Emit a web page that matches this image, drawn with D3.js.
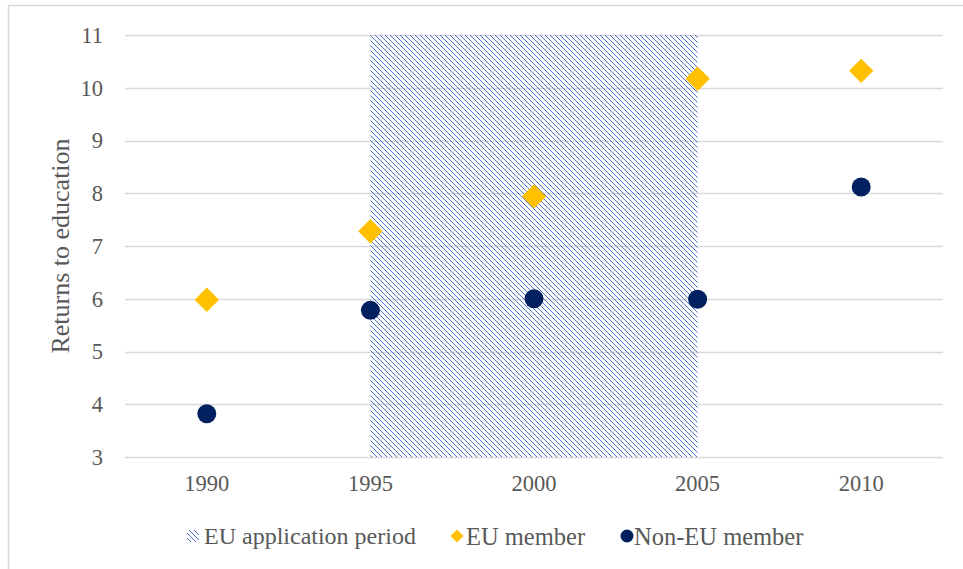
<!DOCTYPE html>
<html>
<head>
<meta charset="utf-8">
<script src="https://cdn.jsdelivr.net/npm/d3@7"></script>
<style>
  body { margin: 0; background: #fff; }
  svg text { font-family: "Liberation Serif", "Times New Roman", serif; }
</style>
</head>
<body>
<script>
const years = ["1990", "1995", "2000", "2005", "2010"];
const euMember = [5.98, 7.28, 7.94, 10.17, 10.32];
const nonEuMember = [3.82, 5.78, 6.0, 5.99, 8.12];
const applicationPeriod = [null, 11, 11, 11, null];
const yTicks = [3, 4, 5, 6, 7, 8, 9, 10, 11];

const width = 963, height = 569;
const margin = {top: 35, right: 20, bottom: 112, left: 125};
const textColor = "#595959";

const svg = d3.select("body").append("svg")
  .attr("width", width)
  .attr("height", height);

// chart border
svg.append("rect")
  .attr("x", 8.5).attr("y", 5.5)
  .attr("width", width).attr("height", height)
  .attr("fill", "none")
  .attr("stroke", "#d9d9d9")
  .attr("stroke-width", 1.5);

const defs = svg.append("defs");
const pat = defs.append("pattern")
  .attr("id", "hatch")
  .attr("patternUnits", "userSpaceOnUse")
  .attr("width", 5).attr("height", 5);
pat.append("path")
  .attr("d", "M-1,-1 L6,6 M-1,4 L1,6 M4,-1 L6,1")
  .attr("stroke", "#3b69cc")
  .attr("stroke-width", 0.95);

const x = d3.scaleBand()
  .domain(years)
  .range([margin.left, width - margin.right]);

const y = d3.scaleLinear()
  .domain([3, 11])
  .range([height - margin.bottom, margin.top]);

const cx = (d, i) => x(years[i]) + x.bandwidth() / 2;

// gridlines
svg.append("g")
  .selectAll("line")
  .data(yTicks)
  .join("line")
  .attr("x1", margin.left)
  .attr("x2", width - margin.right)
  .attr("y1", d => Math.round(y(d)) + 0.5)
  .attr("y2", d => Math.round(y(d)) + 0.5)
  .attr("stroke", "#d9d9d9")
  .attr("stroke-width", 1.3);

// y tick labels
svg.append("g")
  .selectAll("text")
  .data(yTicks)
  .join("text")
  .attr("x", margin.left - 22)
  .attr("y", d => y(d))
  .attr("dy", "0.35em")
  .attr("text-anchor", "end")
  .attr("fill", textColor)
  .style("font-size", "22.5px")
  .text(d => d);

// x tick labels
svg.append("g")
  .selectAll("text")
  .data(years)
  .join("text")
  .attr("x", d => x(d) + x.bandwidth() / 2)
  .attr("y", height - margin.bottom + 34)
  .attr("text-anchor", "middle")
  .attr("fill", textColor)
  .style("font-size", "22.5px")
  .text(d => d);

// application period area
const area = d3.area()
  .defined(d => d != null)
  .x(cx)
  .y0(y(3))
  .y1(d => y(d));

svg.append("path")
  .datum(applicationPeriod)
  .attr("d", area)
  .attr("fill", "url(#hatch)");

// EU member diamonds
const diamond = d3.symbol().type(d3.symbolDiamond2).size(380);
svg.append("g")
  .selectAll("path")
  .data(euMember)
  .join("path")
  .attr("d", diamond)
  .attr("transform", (d, i) => `translate(${cx(d, i)},${y(d)})`)
  .attr("fill", "#ffc000");

// Non-EU member circles
svg.append("g")
  .selectAll("circle")
  .data(nonEuMember)
  .join("circle")
  .attr("cx", cx)
  .attr("cy", d => y(d))
  .attr("r", 9.5)
  .attr("fill", "#002060");

// y axis title
svg.append("text")
  .attr("transform", `translate(69,${y(7)}) rotate(-90)`)
  .attr("text-anchor", "middle")
  .attr("fill", textColor)
  .style("font-size", "26px")
  .text("Returns to education");

// legend
const legend = svg.append("g").attr("transform", "translate(0,536)");
legend.append("rect")
  .attr("x", 187).attr("y", -6)
  .attr("width", 12).attr("height", 12)
  .attr("fill", "url(#hatch)");
legend.append("text")
  .attr("x", 204).attr("dy", "0.35em")
  .attr("fill", textColor).style("font-size", "24px")
  .text("EU application period");
legend.append("path")
  .attr("d", d3.symbol().type(d3.symbolDiamond2).size(110))
  .attr("transform", "translate(457,0)")
  .attr("fill", "#ffc000");
legend.append("text")
  .attr("x", 466).attr("dy", "0.35em")
  .attr("fill", textColor).style("font-size", "24.5px")
  .text("EU member");
legend.append("circle")
  .attr("cx", 627).attr("cy", 0).attr("r", 6.5)
  .attr("fill", "#002060");
legend.append("text")
  .attr("x", 634).attr("dy", "0.35em")
  .attr("fill", textColor).style("font-size", "24.5px")
  .text("Non-EU member");
</script>
</body>
</html>
